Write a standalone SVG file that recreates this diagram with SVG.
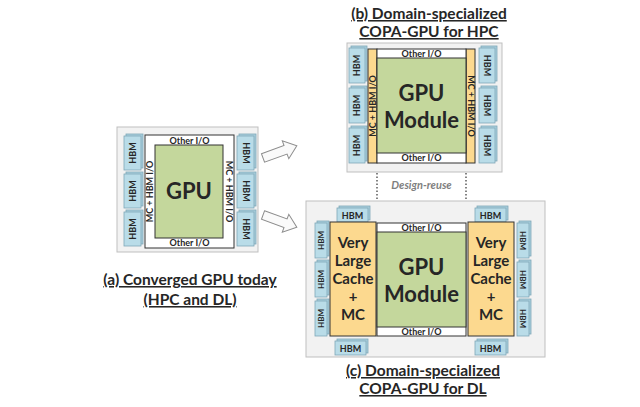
<svg xmlns="http://www.w3.org/2000/svg" width="640" height="407" viewBox="0 0 640 407">
<defs>
<style>
.bg{fill:#f2f2f2;stroke:#bfbfbf;stroke-width:1}
.hbm{fill:#b9dce8;stroke:#7fa8b8;stroke-width:0.8}
.hbmb{fill:#a9cfdd;stroke:#7fa8b8;stroke-width:0.8}
.io{fill:#ffffff;stroke:#333333;stroke-width:1}
.gpu{fill:#c4d79c;stroke:#333333;stroke-width:1}
.mc{fill:#fcd98f;stroke:#333333;stroke-width:1}
.t{font-family:Lato,"Liberation Sans",sans-serif;font-weight:bold;fill:#262626;text-anchor:middle}
.s8{font-size:8px}
.s9{font-size:9px}
.cap{font-size:15.5px;text-decoration:underline}
.big{font-size:22px}
.vl{font-size:15px}
.dr{font-family:Lato,"Liberation Sans",sans-serif;font-style:italic;font-weight:bold;font-size:11px;fill:#7f7f7f;text-anchor:middle}
.arr{fill:#fafafa;stroke:#8c8c8c;stroke-width:1}
.dot{stroke:#333333;stroke-width:1.2;stroke-dasharray:1.5 2;fill:none}
</style>
</defs>

<g id="panel-a">
<rect class="bg" x="117" y="127" width="141" height="125"/>
<g id="a-hbm-left">
<rect class="hbmb" x="126" y="134" width="17" height="34"/><rect class="hbm" x="124" y="136" width="17" height="34"/>
<rect class="hbmb" x="126" y="172" width="17" height="34"/><rect class="hbm" x="124" y="174" width="17" height="34"/>
<rect class="hbmb" x="126" y="210" width="17" height="34"/><rect class="hbm" x="124" y="212" width="17" height="34"/>
<text class="t s9" transform="translate(135.5,153) rotate(-90)">HBM</text>
<text class="t s9" transform="translate(135.5,191) rotate(-90)">HBM</text>
<text class="t s9" transform="translate(135.5,229) rotate(-90)">HBM</text>
</g>
<g id="a-hbm-right">
<rect class="hbmb" x="239" y="134" width="17" height="34"/><rect class="hbm" x="237" y="136" width="17" height="34"/>
<rect class="hbmb" x="239" y="172" width="17" height="34"/><rect class="hbm" x="237" y="174" width="17" height="34"/>
<rect class="hbmb" x="239" y="210" width="17" height="34"/><rect class="hbm" x="237" y="212" width="17" height="34"/>
<text class="t s9" transform="translate(242.5,153) rotate(90)">HBM</text>
<text class="t s9" transform="translate(242.5,191) rotate(90)">HBM</text>
<text class="t s9" transform="translate(242.5,229) rotate(90)">HBM</text>
</g>
<rect class="io" x="145" y="135" width="89" height="113"/>
<rect class="gpu" x="155" y="145" width="68" height="93"/>
<text class="t s9" x="189.5" y="143.5">Other I/O</text>
<text class="t s9" x="189.5" y="246">Other I/O</text>
<text class="t s9" transform="translate(153,191.5) rotate(-90)">MC + HBM I/O</text>
<text class="t s9" transform="translate(226,191.5) rotate(90)">MC + HBM I/O</text>
<text class="t big" x="189" y="199">GPU</text>
<text class="t cap" x="190" y="285">(a) Converged GPU today</text>
<text class="t cap" x="190" y="305">(HPC and DL)</text>
</g>

<g id="connectors">
<path class="arr" transform="translate(263,158) rotate(-20)" d="M0,-4.5 L24,-4.5 L24,-9.5 L36,0 L24,9.5 L24,4.5 L0,4.5 Z"/>
<path class="arr" transform="translate(263,215) rotate(20)" d="M0,-4.5 L24,-4.5 L24,-9.5 L36,0 L24,9.5 L24,4.5 L0,4.5 Z"/>
<line class="dot" x1="377" y1="173" x2="377" y2="222"/>
<line class="dot" x1="466" y1="173" x2="466" y2="222"/>
<text class="dr" x="421.5" y="189">Design-reuse</text>
</g>

<g id="panel-b">
<text class="t cap" x="429" y="19">(b) Domain-specialized</text>
<text class="t cap" x="429" y="37">COPA-GPU for HPC</text>
<rect class="bg" x="347" y="43" width="155" height="129"/>
<g id="b-hbm-left">
<rect class="hbmb" x="351" y="46" width="16" height="35"/><rect class="hbm" x="349" y="48" width="16" height="35"/>
<rect class="hbmb" x="351" y="86" width="16" height="35"/><rect class="hbm" x="349" y="88" width="16" height="35"/>
<rect class="hbmb" x="351" y="126" width="16" height="35"/><rect class="hbm" x="349" y="128" width="16" height="35"/>
<text class="t s9" transform="translate(360,65.5) rotate(-90)">HBM</text>
<text class="t s9" transform="translate(360,105.5) rotate(-90)">HBM</text>
<text class="t s9" transform="translate(360,145.5) rotate(-90)">HBM</text>
</g>
<g id="b-hbm-right">
<rect class="hbmb" x="481" y="46" width="16" height="35"/><rect class="hbm" x="479" y="48" width="16" height="35"/>
<rect class="hbmb" x="481" y="86" width="16" height="35"/><rect class="hbm" x="479" y="88" width="16" height="35"/>
<rect class="hbmb" x="481" y="126" width="16" height="35"/><rect class="hbm" x="479" y="128" width="16" height="35"/>
<text class="t s9" transform="translate(484,65.5) rotate(90)">HBM</text>
<text class="t s9" transform="translate(484,105.5) rotate(90)">HBM</text>
<text class="t s9" transform="translate(484,145.5) rotate(90)">HBM</text>
</g>
<rect class="mc" x="368" y="49" width="9" height="114"/>
<rect class="mc" x="466" y="49" width="9" height="114"/>
<rect class="io" x="377" y="49" width="89" height="114"/>
<rect class="gpu" x="377" y="58" width="89" height="95"/>
<text class="t s9" x="421.5" y="57">Other I/O</text>
<text class="t s9" x="421.5" y="161">Other I/O</text>
<text class="t s9" transform="translate(375.5,106) rotate(-90)">MC + HBM I/O</text>
<text class="t s9" transform="translate(467.5,106) rotate(90)">MC + HBM I/O</text>
<text class="t big" x="421.5" y="101">GPU</text>
<text class="t big" x="421.5" y="128">Module</text>
</g>

<g id="panel-c">
<rect class="bg" x="306" y="201" width="239" height="156"/>
<g id="c-hbm-top">
<rect class="hbmb" x="339" y="206" width="31" height="14"/><rect class="hbm" x="337" y="208" width="31" height="14"/>
<rect class="hbmb" x="477" y="206" width="31" height="14"/><rect class="hbm" x="475" y="208" width="31" height="14"/>
<text class="t s9" x="352.5" y="218.5">HBM</text>
<text class="t s9" x="490.5" y="218.5">HBM</text>
</g>
<g id="c-hbm-bottom">
<rect class="hbmb" x="337" y="339" width="31" height="14"/><rect class="hbm" x="335" y="341" width="31" height="14"/>
<rect class="hbmb" x="477" y="339" width="31" height="14"/><rect class="hbm" x="475" y="341" width="31" height="14"/>
<text class="t s9" x="350.5" y="351.5">HBM</text>
<text class="t s9" x="490.5" y="351.5">HBM</text>
</g>
<g id="c-hbm-left">
<rect class="hbmb" x="317" y="221" width="12" height="35"/><rect class="hbm" x="315" y="223" width="12" height="35"/>
<rect class="hbmb" x="317" y="260" width="12" height="35"/><rect class="hbm" x="315" y="262" width="12" height="35"/>
<rect class="hbmb" x="317" y="299" width="12" height="35"/><rect class="hbm" x="315" y="301" width="12" height="35"/>
<text class="t s8" transform="translate(324,240.5) rotate(-90)">HBM</text>
<text class="t s8" transform="translate(324,279.5) rotate(-90)">HBM</text>
<text class="t s8" transform="translate(324,318.5) rotate(-90)">HBM</text>
</g>
<g id="c-hbm-right">
<rect class="hbmb" x="519" y="221" width="12" height="35"/><rect class="hbm" x="517" y="223" width="12" height="35"/>
<rect class="hbmb" x="519" y="260" width="12" height="35"/><rect class="hbm" x="517" y="262" width="12" height="35"/>
<rect class="hbmb" x="519" y="299" width="12" height="35"/><rect class="hbm" x="517" y="301" width="12" height="35"/>
<text class="t s8" transform="translate(520,240.5) rotate(90)">HBM</text>
<text class="t s8" transform="translate(520,279.5) rotate(90)">HBM</text>
<text class="t s8" transform="translate(520,318.5) rotate(90)">HBM</text>
</g>
<g id="c-cache-left">
<rect class="mc" x="330" y="222" width="46" height="114"/>
<text class="t vl" x="353" y="248">Very</text>
<text class="t vl" x="353" y="266">Large</text>
<text class="t vl" x="353" y="284">Cache</text>
<text class="t vl" x="353" y="302">+</text>
<text class="t vl" x="353" y="320">MC</text>
</g>
<g id="c-cache-right">
<rect class="mc" x="468" y="222" width="46" height="114"/>
<text class="t vl" x="491" y="248">Very</text>
<text class="t vl" x="491" y="266">Large</text>
<text class="t vl" x="491" y="284">Cache</text>
<text class="t vl" x="491" y="302">+</text>
<text class="t vl" x="491" y="320">MC</text>
</g>
<g id="c-gpu">
<rect class="io" x="377" y="223" width="89" height="113"/>
<rect class="gpu" x="377" y="232" width="89" height="95"/>
<text class="t s9" x="421.5" y="231">Other I/O</text>
<text class="t s9" x="421.5" y="335">Other I/O</text>
<text class="t big" x="421.5" y="275">GPU</text>
<text class="t big" x="421.5" y="302">Module</text>
</g>
<text class="t cap" x="423" y="376">(c) Domain-specialized</text>
<text class="t cap" x="423" y="394">COPA-GPU for DL</text>
</g>
</svg>
